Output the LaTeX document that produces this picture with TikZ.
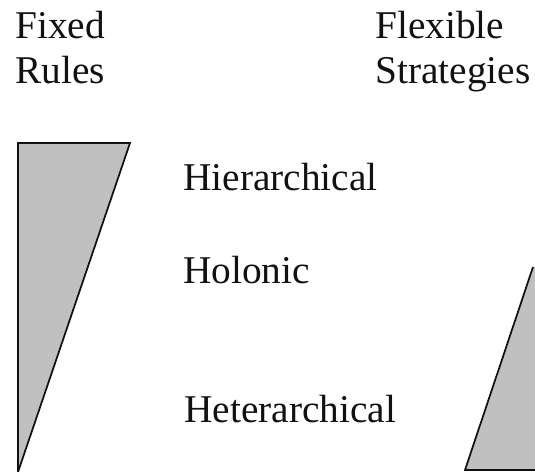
\documentclass[tikz,border=0pt]{standalone}
\usepackage{fontspec}
\setmainfont{Liberation Serif}
\usepackage{tikz}
\usepackage{xcolor}
\definecolor{wedge}{HTML}{C0C0C0}
\definecolor{ink}  {HTML}{111111}

\begin{document}
\begin{tikzpicture}[x=0.75pt,y=-0.75pt,
    label/.style={anchor=base west,inner sep=0pt,align=left,
                  font=\fontsize{29.5}{33.75}\selectfont,text=ink},
    wedgeline/.style={draw=ink,line width=1.3pt,line join=miter}]
  \useasboundingbox (0,0) rectangle (535,471);

  % column headings (base = last line)
  \node[label] (fixed) at (15,83) {Fixed\\Rules};
  \node[label] (flex)  at (375,83) {Flexible\\Strategies};

  % architecture types
  \node[label] (hier)   at (183,190) {Hierarchical};
  \node[label] (holon)  at (183,283) {Holonic};
  \node[label] (hetero) at (184,422) {Heterarchical};

  % wedges
  \coordinate (lt) at (18,143);
  \coordinate (rt) at (130,143);
  \coordinate (lb) at (18,472);
  \fill[wedge] (lt) -- (rt) -- (lb) -- cycle;
  \draw[wedgeline] (lb) -- (lt) -- (rt) -- (lb);

  \coordinate (ap) at (533,267);
  \coordinate (bl) at (465,470);
  \coordinate (br) at (536,470);
  \fill[wedge] (ap) -- (bl) -- (br) -- (536,267) -- cycle;
  \draw[wedgeline] (ap) -- (bl) -- (br);
\end{tikzpicture}
\end{document}
